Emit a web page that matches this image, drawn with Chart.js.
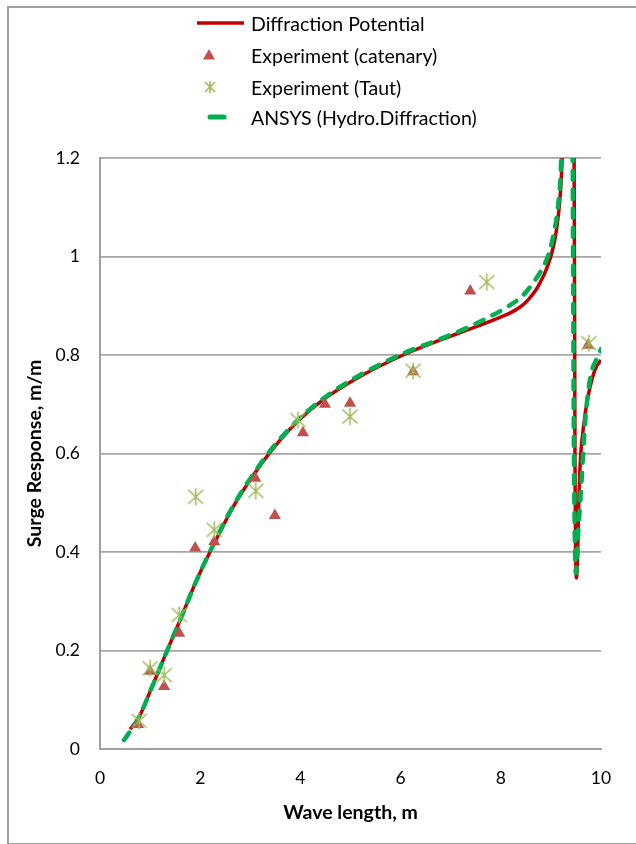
<!DOCTYPE html>
<html>
<head>
<meta charset="utf-8">
<script src="https://cdn.jsdelivr.net/npm/chart.js@4/dist/chart.umd.min.js"></script>
<style>
	body { margin: 0; width: 636px; height: 844px; overflow: hidden; background: #fff; font-family: Lato, sans-serif; }
	#frame { position: absolute; left: 7px; top: 6px; width: 650px; height: 835px; border: 2px solid #a0a0a0; }
	#chart { position: absolute; left: 0; top: 0; }
	.row { position: absolute; left: 190px; height: 30px; display: flex; align-items: center; font-size: 19.5px; color: #000; }
	.row svg { width: 61px; height: 30px; flex: none; }
</style>
</head>
<body>
<div id="frame"></div>
<canvas id="chart" width="636" height="844"></canvas>
<div class="row" style="top:8px"><svg><line x1="7" y1="15" x2="54" y2="15" stroke="#C00000" stroke-width="3.5"/></svg><span>Diffraction Potential</span></div>
<div class="row" style="top:40px"><svg><polygon points="19,9 25,19.5 13,19.5" fill="#C0504D"/></svg><span>Experiment (catenary)</span></div>
<div class="row" style="top:72px"><svg><g stroke="#9BBB59" stroke-width="1.6"><line x1="15" y1="10" x2="25" y2="20"/><line x1="25" y1="10" x2="15" y2="20"/><line x1="20" y1="9" x2="20" y2="21"/></g></svg><span>Experiment (Taut)</span></div>
<div class="row" style="top:102px"><svg><line x1="20" y1="15" x2="34" y2="15" stroke="#00B050" stroke-width="5" stroke-linecap="round"/></svg><span>ANSYS (Hydro.Diffraction)</span></div>
<script>
// Diffraction Potential (solid red)
const diffX = [0.6, 0.78, 1.03, 1.3, 1.6, 1.93, 2.26, 2.66, 3.06, 3.43, 3.93, 4.45, 5.13, 6.05, 6.73, 7.39, 8.0, 8.2, 8.38, 8.5, 8.62, 8.72, 8.8, 8.88, 8.95, 9.02, 9.08, 9.13, 9.17, 9.2, 9.225, 9.25,
	9.46, 9.48, 9.51, 9.535, 9.55, 9.58, 9.65, 9.75, 9.88, 10.0];
const diffY = [0.04, 0.065, 0.124, 0.19, 0.262, 0.343, 0.413, 0.492, 0.556, 0.607, 0.664, 0.709, 0.753, 0.8, 0.828, 0.853, 0.877, 0.886, 0.897, 0.907, 0.921, 0.935, 0.95, 0.967, 0.985, 1.008, 1.035, 1.068, 1.105, 1.145, 1.2, 1.3,
	1.3, 0.607, 0.347, 0.4, 0.47, 0.57, 0.654, 0.72, 0.77, 0.79];

// ANSYS (dashed green)
const ansysX = [0.48, 0.78, 1.03, 1.3, 1.6, 1.93, 2.26, 2.66, 3.06, 3.43, 3.93, 4.45, 5.13, 6.05, 6.73, 7.39, 7.65, 8.12, 8.4, 8.52, 8.64, 8.75, 8.85, 8.92, 8.98, 9.06, 9.14, 9.2, 9.23,
	9.425, 9.46, 9.5, 9.545, 9.61, 9.68, 9.78, 9.95, 10.0];
const ansysY = [0.018, 0.065, 0.124, 0.19, 0.262, 0.343, 0.415, 0.494, 0.558, 0.61, 0.666, 0.711, 0.756, 0.803, 0.83, 0.858, 0.871, 0.897, 0.917, 0.93, 0.946, 0.962, 0.98, 0.995, 1.013, 1.048, 1.1, 1.18, 1.3,
	1.3, 0.6, 0.357, 0.44, 0.54, 0.66, 0.75, 0.8, 0.812];

// Experiment (catenary)
const catX = [0.76, 1.0, 1.28, 1.58, 1.9, 2.28, 3.1, 3.49, 4.05, 4.49, 4.99, 6.25, 7.39, 9.74];
const catY = [0.05, 0.158, 0.127, 0.235, 0.408, 0.421, 0.55, 0.474, 0.642, 0.7, 0.702, 0.766, 0.93, 0.82];

// Experiment (Taut)
const tautX = [0.78, 1.0, 1.28, 1.58, 1.91, 2.28, 3.11, 3.95, 4.99, 6.25, 7.72, 9.76];
const tautY = [0.057, 0.164, 0.15, 0.272, 0.512, 0.445, 0.524, 0.668, 0.675, 0.768, 0.948, 0.824];

const xTickStep = 2;
const yTickStep = 0.2;

function pts(xs, ys) {
	return xs.map((x, i) => ({ x: x, y: ys[i] }));
}

// asterisk marker like the Excel one: an X plus a vertical stroke
const star = document.createElement("canvas");
star.width = 19;
star.height = 19;
const sctx = star.getContext("2d");
sctx.strokeStyle = "#9BBB59";
sctx.lineWidth = 1.6;
sctx.beginPath();
sctx.moveTo(2, 2.5); sctx.lineTo(17, 16.5);
sctx.moveTo(17, 2.5); sctx.lineTo(2, 16.5);
sctx.moveTo(9.5, 1); sctx.lineTo(9.5, 18);
sctx.stroke();

Chart.defaults.font.family = "Lato";
Chart.defaults.color = "#000";

new Chart(document.getElementById("chart"), {
	type: "scatter",
	data: {
		datasets: [
			{
				label: "Diffraction Potential",
				data: pts(diffX, diffY),
				showLine: true,
				borderColor: "#C00000",
				borderWidth: 3.5,
				pointRadius: 0,
				cubicInterpolationMode: "monotone",
				order: 4,
			},
			{
				label: "Experiment (catenary)",
				data: pts(catX, catY),
				pointStyle: "triangle",
				pointRadius: 7,
				backgroundColor: "#C0504D",
				borderColor: "#C0504D",
				borderWidth: 0,
				order: 2,
			},
			{
				label: "Experiment (Taut)",
				data: pts(tautX, tautY),
				pointStyle: star,
				pointRadius: 9,
				order: 1,
			},
			{
				label: "ANSYS (Hydro.Diffraction)",
				data: pts(ansysX, ansysY),
				showLine: true,
				borderColor: "#00B050",
				borderWidth: 4.5,
				borderDash: [9, 10],
				borderCapStyle: "round",
				pointRadius: 0,
				cubicInterpolationMode: "monotone",
				order: 3,
			},
		],
	},
	options: {
		responsive: false,
		animation: false,
		layout: { padding: { left: 0, top: 158, right: 35, bottom: 0 } },
		plugins: {
			legend: { display: false },
			tooltip: { enabled: false },
		},
		scales: {
			x: {
				type: "linear",
				min: 0,
				max: 10,
				ticks: { stepSize: xTickStep, padding: 18.5, font: { size: 17.5 } },
				grid: { display: false, drawTicks: false },
				border: { display: true, color: "#a0a0a0", width: 2 },
				title: {
					display: true,
					text: "Wave length, m",
					font: { size: 19.5, weight: "bold" },
					padding: { top: 0, bottom: 20 },
				},
				afterFit: (s) => { s.height = 95; },
			},
			y: {
				type: "linear",
				min: 0,
				max: 1.2,
				ticks: {
					stepSize: yTickStep,
					padding: 20,
					font: { size: 17.5 },
					callback: (v) => String(Math.round(v * 10) / 10),
				},
				grid: { color: "#a6a6a6", lineWidth: 1.75, drawTicks: false },
				border: { display: true, color: "#a0a0a0", width: 2 },
				title: {
					display: true,
					text: "Surge Response, m/m",
					font: { size: 19.5, weight: "bold" },
					padding: { top: 23, bottom: 0 },
				},
				afterFit: (s) => { s.width = 100; },
			},
		},
	},
});
</script>
</body>
</html>
